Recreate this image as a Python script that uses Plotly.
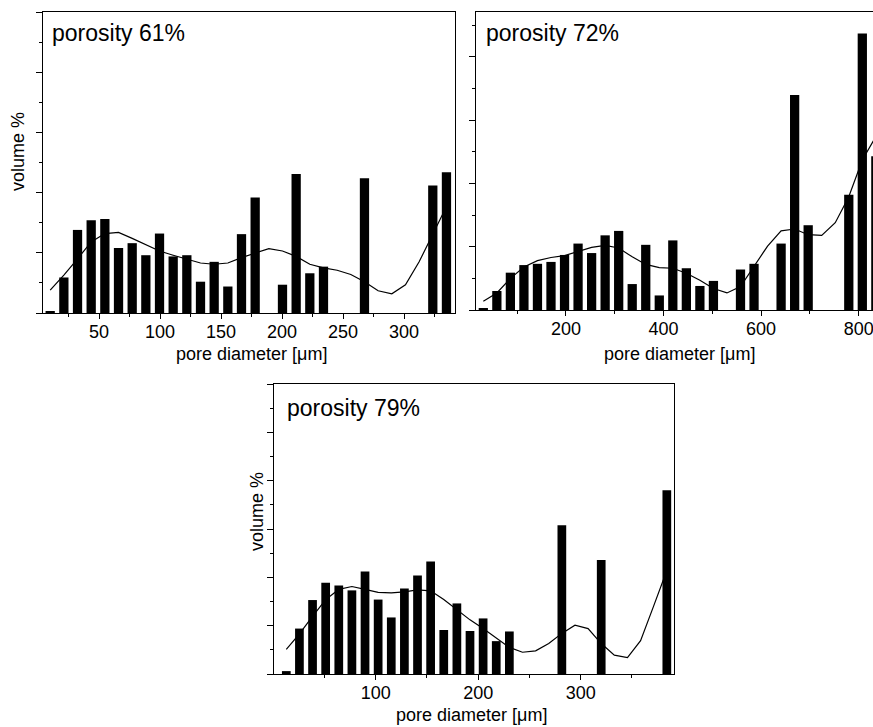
import plotly.graph_objects as go

# ---------------- data ----------------
# Panel A: porosity 61%
a_centers = [10.0, 21.2, 32.4, 43.6, 54.8, 66.0, 77.2, 88.4, 99.6, 110.8,
             122.0, 133.2, 144.4, 155.6, 166.8, 178.0, 189.2, 200.4, 211.6, 222.8,
             234.0, 245.2, 256.4, 267.6, 278.8, 290.0, 301.2, 312.4, 323.6, 334.8]
a_bars = [0.03, 0.59, 1.38, 1.54, 1.56, 1.08, 1.16, 0.96, 1.32, 0.94,
          0.96, 0.52, 0.85, 0.44, 1.31, 1.92, 0.0, 0.47, 2.31, 0.66,
          0.77, 0.0, 0.0, 2.24, 0.0, 0.0, 0.0, 0.0, 2.12, 2.34]
a_curve = [0.38, 0.63, 0.90, 1.18, 1.32, 1.34, 1.24, 1.13, 1.03, 0.96,
           0.89, 0.83, 0.81, 0.83, 0.92, 1.00, 1.07, 1.03, 0.94, 0.81,
           0.75, 0.71, 0.64, 0.52, 0.37, 0.32, 0.47, 0.85, 1.32, 1.77]

# Panel B: porosity 72%
b_centers = [30.5, 58.25, 86.0, 113.75, 141.5, 169.25, 197.0, 224.75, 252.5, 280.25,
             308.0, 335.75, 363.5, 391.25, 419.0, 446.75, 474.5, 502.25, 530.0, 557.75,
             585.5, 613.25, 641.0, 668.75, 696.5, 724.25, 752.0, 779.75, 807.5, 835.25]
b_bars = [0.03, 0.30, 0.59, 0.71, 0.73, 0.76, 0.87, 1.05, 0.90, 1.18,
          1.25, 0.41, 1.03, 0.23, 1.10, 0.66, 0.38, 0.46, 0.0, 0.64,
          0.73, 0.0, 1.05, 3.40, 1.34, 0.0, 0.0, 1.82, 4.37, 2.43]
b_curve = [0.14, 0.27, 0.50, 0.68, 0.78, 0.83, 0.86, 0.92, 0.99, 1.02,
           0.98, 0.84, 0.72, 0.67, 0.66, 0.58, 0.47, 0.34, 0.27, 0.37,
           0.68, 1.01, 1.25, 1.28, 1.19, 1.18, 1.38, 1.79, 2.37, 2.74]

# Panel C: porosity 79%
c_centers = [12.8, 25.6, 38.4, 51.2, 64.0, 76.8, 89.6, 102.4, 115.2, 128.0,
             140.8, 153.6, 166.4, 179.2, 192.0, 204.8, 217.6, 230.4, 243.2, 256.0,
             268.8, 281.6, 294.4, 307.2, 320.0, 332.8, 345.6, 358.4, 371.2, 384.0]
c_bars = [0.06, 0.94, 1.53, 1.89, 1.83, 1.73, 2.12, 1.54, 1.17, 1.77,
          2.04, 2.33, 0.91, 1.46, 0.89, 1.15, 0.68, 0.88, 0.0, 0.0,
          0.0, 3.08, 0.0, 0.0, 2.36, 0.0, 0.0, 0.0, 0.0, 3.80]
c_curve = [0.51, 0.83, 1.19, 1.54, 1.75, 1.81, 1.75, 1.69, 1.68, 1.70,
           1.74, 1.72, 1.54, 1.32, 1.12, 0.94, 0.74, 0.55, 0.45, 0.48,
           0.63, 0.84, 1.01, 0.94, 0.63, 0.39, 0.34, 0.69, 1.41, 2.14]

labels = ["porosity 61%", "porosity 72%", "porosity 79%"]
x_title = "pore diameter [μm]"
y_title = "volume %"

# ---------------- figure ----------------
W, H = 873, 727
FONT = "Liberation Sans, Arial, Helvetica, sans-serif"

def px_x(p):
    return p / W

def px_y(p):
    return 1 - p / H

fig = go.Figure()

panels = [
    dict(cx=a_centers, bars=a_bars, curve=a_curve, width=7.6, xa="x", ya="y"),
    dict(cx=b_centers, bars=b_bars, curve=b_curve, width=19.0, xa="x2", ya="y2"),
    dict(cx=c_centers, bars=c_bars, curve=c_curve, width=8.5, xa="x3", ya="y3"),
]
for p in panels:
    fig.add_trace(go.Bar(x=p["cx"], y=p["bars"], width=p["width"],
                         marker=dict(color="black", line=dict(width=0)),
                         xaxis=p["xa"], yaxis=p["ya"], showlegend=False))
    fig.add_trace(go.Scatter(x=p["cx"], y=p["curve"], mode="lines",
                             line=dict(color="black", width=1.2),
                             xaxis=p["xa"], yaxis=p["ya"], showlegend=False,
                             cliponaxis=True))

tickfont = dict(family=FONT, size=18, color="black")

def xax(domain, rng, dtick, minor_tick0, minor_dtick, mirror=True):
    return dict(domain=domain, range=rng, tick0=0, dtick=dtick,
                ticks="outside", ticklen=5, tickwidth=1, tickcolor="black",
                minor=dict(ticks="outside", ticklen=3, tick0=minor_tick0,
                           dtick=minor_dtick, tickcolor="black", tickwidth=1),
                showline=True, linecolor="black", linewidth=1, mirror=mirror,
                showgrid=False, zeroline=False, tickfont=tickfont,
                ticklabelstandoff=-3, ticklabeloverflow="allow")

def yax(domain, rng, anchor, mirror=True):
    return dict(domain=domain, range=rng, tick0=0, dtick=1,
                ticks="outside", ticklen=6, tickwidth=1, tickcolor="black",
                minor=dict(ticks="outside", ticklen=3, tick0=0.5, dtick=1,
                           tickcolor="black", tickwidth=1),
                showline=True, linecolor="black", linewidth=1, mirror=mirror,
                showgrid=False, zeroline=False, showticklabels=False,
                anchor=anchor)

fig.update_layout(
    width=W, height=H,
    margin=dict(l=0, r=0, t=0, b=0),
    paper_bgcolor="white", plot_bgcolor="white",
    showlegend=False,
    barmode="overlay",
    xaxis=xax([px_x(43), px_x(455)], [4.1, 341.8], 50, 25, 50) | dict(anchor="y"),
    yaxis=yax([px_y(313), px_y(12)], [0, 5], "x"),
    xaxis2=xax([px_x(476), 1.0], [15.5, 829.4], 200, 100, 200) | dict(anchor="y2"),
    yaxis2=yax([px_y(310), px_y(12)], [0, 4.71], "x2", mirror=False),
    xaxis3=xax([px_x(274), px_x(674)], [0.8, 391], 100, 50, 100) | dict(anchor="y3"),
    yaxis3=yax([px_y(674), px_y(384)], [0, 6], "x3"),
)

ann_font = dict(family=FONT, size=23, color="black")
title_font = dict(family=FONT, size=18, color="black")
annotations = [
    dict(text=labels[0], x=px_x(50), y=px_y(33), xref="paper", yref="paper",
         xanchor="left", yanchor="middle", showarrow=False, font=ann_font),
    dict(text=labels[1], x=px_x(484), y=px_y(33), xref="paper", yref="paper",
         xanchor="left", yanchor="middle", showarrow=False, font=ann_font),
    dict(text=labels[2], x=px_x(285), y=px_y(408), xref="paper", yref="paper",
         xanchor="left", yanchor="middle", showarrow=False, font=ann_font),
    dict(text=x_title, x=px_x(251.7), y=px_y(354), xref="paper", yref="paper",
         xanchor="center", yanchor="middle", showarrow=False, font=title_font),
    dict(text=x_title, x=px_x(679), y=px_y(354), xref="paper", yref="paper",
         xanchor="center", yanchor="middle", showarrow=False, font=title_font),
    dict(text=x_title, x=px_x(471), y=px_y(715), xref="paper", yref="paper",
         xanchor="center", yanchor="middle", showarrow=False, font=title_font),
    dict(text=y_title, x=px_x(18), y=px_y(152), xref="paper", yref="paper",
         xanchor="center", yanchor="middle", textangle=-90, showarrow=False,
         font=title_font),
    dict(text=y_title, x=px_x(257), y=px_y(512), xref="paper", yref="paper",
         xanchor="center", yanchor="middle", textangle=-90, showarrow=False,
         font=title_font),
]
fig.update_layout(annotations=annotations)

fig.write_html("out.html",
               config={"displayModeBar": False},
               post_script="document.body.style.margin='0px';document.body.style.padding='0px';")
